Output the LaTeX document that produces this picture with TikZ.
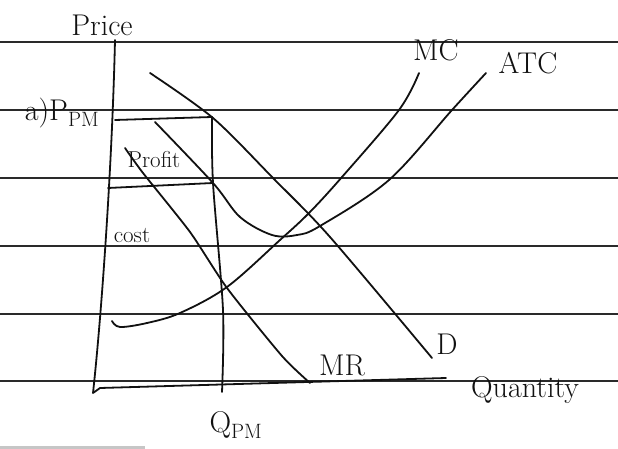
\documentclass[tikz,border=0pt]{standalone}
\usepackage{amsmath}
\usepackage{tikz}
\usetikzlibrary{positioning}
\definecolor{ink}{HTML}{111111}
\definecolor{ruleink}{HTML}{2A2A2A}

\begin{document}
\begin{tikzpicture}[x=1pt,y=-1pt,
    curve/.style={ink,line width=1.8pt,line join=round,line cap=round},
    ruling/.style={ruleink,line width=1.3pt},
    hand/.style={ink,inner sep=0pt,font=\fontsize{30}{34}\selectfont},
    handsmall/.style={ink,inner sep=0pt,font=\fontsize{23}{26}\selectfont}]
  \useasboundingbox (0,0) rectangle (618,449);
  % ruled paper
  \foreach \y in {42,110,178,246,314,381}
    \draw[ruling] (0,\y) -- (618,\y);
  \draw[gray!45,line width=3pt] (0,447) -- (145,447);

  % axes
  \coordinate (origin) at (93,393);
  \coordinate (ptop) at (115,40);
  \coordinate (qend) at (446,378);
  \draw[curve] (ptop) .. controls (112,170) and (101,320) .. (origin)
    -- (100,388) -- (qend);

  % price and cost rectangle
  \coordinate (ppmleft) at (115,120);
  \coordinate (corner) at (212,117);
  \coordinate (costleft) at (108,188);
  \coordinate (costright) at (213,183);
  \coordinate (qpmfoot) at (222,392);
  \draw[curve] (ppmleft) -- (corner);
  \draw[curve] (costleft) -- (costright);
  \draw[curve] plot[smooth,tension=0.5] coordinates {(corner) (costright) (223,310) (qpmfoot)};

  % demand
  \coordinate (dtop) at (150,73);
  \coordinate (dend) at (432,358);
  \draw[curve] plot[smooth,tension=0.5] coordinates {(dtop) (213,118) (273,178) (330,237) (dend)};

  % marginal revenue
  \coordinate (mrtop) at (125,148);
  \coordinate (mrfoot) at (310,383);
  \draw[curve] plot[smooth,tension=0.4] coordinates {(mrtop) (143,173) (190,232) (227,288) (282,356) (mrfoot)};

  % average total cost
  \coordinate (atcstart) at (155,122);
  \coordinate (atcend) at (486,73);
  \draw[curve] plot[smooth,tension=0.55] coordinates {(atcstart) (costright) (240,217) (272,235)
    (297,235) (320,226) (389,180) (452,110) (atcend)};

  % marginal cost
  \coordinate (mcstart) at (112,321);
  \coordinate (mcend) at (419,73);
  \draw[curve] plot[smooth,tension=0.55] coordinates {(mcstart) (120,327) (147,323) (180,313)
    (227,287) (280,240) (309,213) (342,177) (399,110) (mcend)};

  % labels
  \node[hand] (price) at (102,25) {Price};
  \node[hand] (ppm) at (62,113) {a)P$_{\mathrm{PM}}$};
  \node[handsmall] (profit) at (154,160) {Profit};
  \node[handsmall] (cost) at (132,236) {cost};
  \node[hand] (mc) at (436,50) {MC};
  \node[hand] (atc) at (528,63) {ATC};
  \node[hand] (dlab) at (447,344) {D};
  \node[hand] (mr) at (342,365) {MR};
  \node[hand] (qty) at (525,390) {Quantity};
  \node[hand] (qpm) at (236,425) {Q$_{\mathrm{PM}}$};
\end{tikzpicture}
\end{document}
